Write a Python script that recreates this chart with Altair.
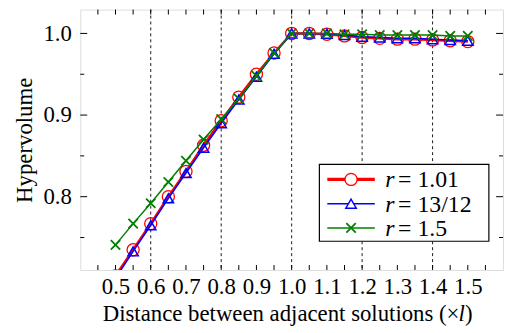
import altair as alt
import pandas as pd

# ---- data ----
x_vals = [0.50, 0.55, 0.60, 0.65, 0.70, 0.75, 0.80, 0.85, 0.90, 0.95, 1.00,
          1.05, 1.10, 1.15, 1.20, 1.25, 1.30, 1.35, 1.40, 1.45, 1.50]
hv_r101 = [0.703, 0.735, 0.767, 0.800, 0.831, 0.863, 0.893, 0.922, 0.950, 0.976, 1.000,
           1.000, 0.999, 0.997, 0.995, 0.994, 0.993, 0.993, 0.992, 0.991, 0.990]
hv_r1312 = [0.700, 0.733, 0.765, 0.798, 0.829, 0.860, 0.890, 0.919, 0.947, 0.975, 1.000,
            1.000, 0.9995, 0.998, 0.996, 0.995, 0.994, 0.994, 0.993, 0.992, 0.991]
hv_r15 = [0.741, 0.767, 0.792, 0.818, 0.844, 0.870, 0.895, 0.920, 0.948, 0.976, 1.000,
          1.000, 1.000, 0.999, 0.999, 0.998, 0.998, 0.998, 0.998, 0.997, 0.997]
series_names = ["1.01", "13/12", "1.5"]
series_values = [hv_r101, hv_r1312, hv_r15]

x_tick_labels = [0.5, 0.6, 0.7, 0.8, 0.9, 1.0, 1.1, 1.2, 1.3, 1.4, 1.5]
x_minor_ticks = [0.45, 0.50, 0.55, 0.60, 0.65, 0.70, 0.75, 0.80, 0.85, 0.90, 0.95, 1.00,
                 1.05, 1.10, 1.15, 1.20, 1.25, 1.30, 1.35, 1.40, 1.45, 1.50, 1.55]
y_major_ticks = [0.8, 0.9, 1.0]
y_minor_ticks = [0.75, 0.85, 0.95]
grid_x = [0.6, 0.8, 1.0, 1.2, 1.4]

x_title_main = "Distance between adjacent solutions (×"
x_title_italic = "l"
x_title_end = ")"
y_title = "Hypervolume"

# ---- styles ----
FONT = "Liberation Serif, Times New Roman, serif"
W, H = 427, 263
colors = ["#ff0000", "#0000ff", "#008000"]
line_widths = [2.5, 1.5, 1.5]
shapes = ["circle", "triangle-up", "M-1,-1L1,1M1,-1L-1,1"]
sizes = [150, 110, 90]
mark_strokes = [1.3, 1.5, 1.8]

XS = alt.Scale(domain=[0.4, 1.6], nice=False, zero=False)
YS = alt.Scale(domain=[0.7102, 1.0292], nice=False, zero=False)

rows = []
for name, vals in zip(series_names, series_values):
    for xv, yv in zip(x_vals, vals):
        rows.append({"d": xv, "hv": yv, "r": name})
df = pd.DataFrame(rows)

layers = []

# dashed grid
grid = alt.Chart(pd.DataFrame({"g": grid_x})).mark_rule(
    color="black", strokeWidth=0.9, strokeDash=[3, 3]
).encode(x=alt.X("g:Q", scale=XS))
layers.append(grid)

# axes (labels + titles only, ticks drawn manually inward)
axes = alt.Chart(pd.DataFrame({"d": [1.0], "hv": [0.9]})).mark_point(opacity=0).encode(
    x=alt.X("d:Q", scale=XS, axis=alt.Axis(values=x_tick_labels, format=".1f", title=None,
                                          ticks=False, domain=False, grid=False,
                                          labelFont=FONT, labelFontSize=23, labelColor="black",
                                          labelPadding=6, labelOverlap=False, labelFlush=False)),
    y=alt.Y("hv:Q", scale=YS, axis=alt.Axis(values=y_major_ticks, format=".1f", title=y_title,
                                           ticks=False, domain=False, grid=False,
                                           labelFont=FONT, labelFontSize=23, labelColor="black",
                                           labelPadding=9, labelOverlap=False, labelFlush=False,
                                           titleFont=FONT, titleFontSize=23, titleFontWeight="normal",
                                           titleColor="black", titlePadding=7)),
)
layers.append(axes)

# inward ticks
tx = pd.DataFrame({"t": x_minor_ticks})
layers.append(alt.Chart(tx).mark_rule(color="black", strokeWidth=1).encode(
    x=alt.X("t:Q", scale=XS), y=alt.value(H), y2=alt.value(H - 5)))
layers.append(alt.Chart(tx).mark_rule(color="black", strokeWidth=1).encode(
    x=alt.X("t:Q", scale=XS), y=alt.value(0), y2=alt.value(5)))
tyM = pd.DataFrame({"t": y_major_ticks})
tym = pd.DataFrame({"t": y_minor_ticks})
for dfx, ln in [(tyM, 7), (tym, 4)]:
    layers.append(alt.Chart(dfx).mark_rule(color="black", strokeWidth=1).encode(
        y=alt.Y("t:Q", scale=YS), x=alt.value(0), x2=alt.value(ln)))
    layers.append(alt.Chart(dfx).mark_rule(color="black", strokeWidth=1).encode(
        y=alt.Y("t:Q", scale=YS), x=alt.value(W), x2=alt.value(W - ln)))

# series lines and markers
for i, name in enumerate(series_names):
    base = alt.Chart(df).transform_filter(alt.datum.r == name)
    layers.append(base.mark_line(color=colors[i], strokeWidth=line_widths[i], clip=True).encode(
        x=alt.X("d:Q", scale=XS), y=alt.Y("hv:Q", scale=YS)))
    layers.append(base.mark_point(color=colors[i], shape=shapes[i], size=sizes[i], filled=False,
                                  strokeWidth=mark_strokes[i], opacity=1, clip=True).encode(
        x=alt.X("d:Q", scale=XS), y=alt.Y("hv:Q", scale=YS)))

# legend box
lg = pd.DataFrame({"r": series_names})
layers.append(alt.Chart(lg).mark_rect(fill="white", stroke="black", strokeWidth=1.2).encode(
    x=alt.value(241.5), x2=alt.value(412.7), y=alt.value(156.3), y2=alt.value(234)).transform_filter(
    alt.datum.r == series_names[0]))
for i, name in enumerate(series_names):
    yy = 171.5 + 24.5 * i
    one = alt.Chart(lg).transform_filter(alt.datum.r == name)
    layers.append(one.mark_rule(color=colors[i], strokeWidth=line_widths[i] + (0.8 if i == 0 else 0)).encode(
        x=alt.value(249.5), x2=alt.value(297.5), y=alt.value(yy)))
    layers.append(one.mark_point(color=colors[i], shape=shapes[i], size=sizes[i], filled=True,
                                 fill="white", stroke=colors[i], strokeWidth=mark_strokes[i],
                                 opacity=1).encode(x=alt.value(273.5), y=alt.value(yy)))
    layers.append(one.mark_text(font=FONT, fontSize=24, fontStyle="italic", align="left",
                                baseline="middle", color="black").encode(
        x=alt.value(308), y=alt.value(yy + 1), text=alt.value("r")))
    layers.append(one.mark_text(font=FONT, fontSize=24, align="left",
                                baseline="middle", color="black").encode(
        x=alt.value(321), y=alt.value(yy + 1), text=alt.value("= " + name)))

# x-axis title with italic l
tt = pd.DataFrame({"a": [0]})
layers.append(alt.Chart(tt).mark_text(font=FONT, fontSize=23, align="right", baseline="alphabetic",
                                      color="black").encode(
    x=alt.value(383), y=alt.value(315), text=alt.value(x_title_main)))
layers.append(alt.Chart(tt).mark_text(font=FONT, fontSize=23, fontStyle="italic", align="left",
                                      baseline="alphabetic", color="black").encode(
    x=alt.value(382), y=alt.value(315), text=alt.value(x_title_italic)))
layers.append(alt.Chart(tt).mark_text(font=FONT, fontSize=23, align="left", baseline="alphabetic",
                                      color="black").encode(
    x=alt.value(388.5), y=alt.value(315), text=alt.value(x_title_end)))

chart = alt.layer(*layers).properties(
    width=W, height=H,
    autosize=alt.AutoSizeParams(type="none"),
    padding={"left": 73, "top": 0, "right": 4, "bottom": 60},
).configure_view(stroke="black", strokeWidth=1.5).configure(background="white")

chart.save("out.html", embed_options={"renderer": "svg", "actions": False})
